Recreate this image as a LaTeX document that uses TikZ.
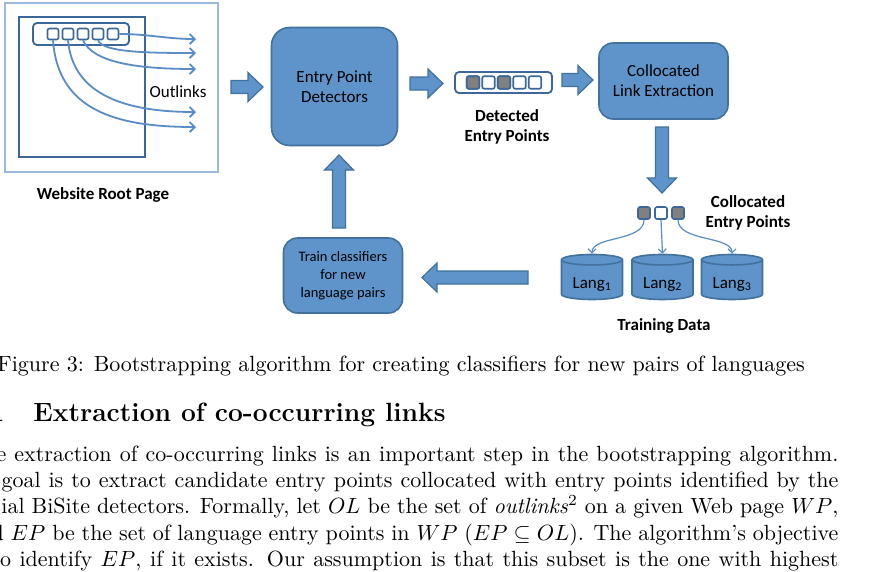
\documentclass[tikz,border=0pt]{standalone}
\usepackage{fontspec}
\usetikzlibrary{shapes.geometric,arrows.meta}
\newfontfamily\carlito{Carlito}

\definecolor{boxfill}{HTML}{5E94CA}
\definecolor{boxline}{HTML}{41719C}
\definecolor{linkblue}{HTML}{5A8DC6}
\definecolor{pagedark}{HTML}{3B679A}
\definecolor{pagelight}{HTML}{9BB9DC}
\definecolor{slotgrey}{HTML}{808080}

\tikzset{
    procbox/.style={draw=boxline, fill=boxfill, line width=1.6pt, rounded corners=14pt,
        font=\carlito\fontsize{17}{20}\selectfont, align=center, inner sep=0pt},
    pics/fatarr/.style={code={
        \draw[boxline, fill=boxfill, line width=1.2pt] (0,-6.5) -- ({#1-15},-6.5) -- ({#1-15},-14.5)
            -- (#1,0) -- ({#1-15},14.5) -- ({#1-15},6.5) -- (0,6.5) -- cycle;}},
    slot/.style={draw=pagedark, fill=white, line width=1.6pt, rounded corners=2pt,
        minimum size=11pt, inner sep=0pt},
    slotfull/.style={slot, fill=slotgrey},
    slotbar/.style={draw=pagedark, fill=white, line width=1.8pt, rounded corners=4pt, inner sep=0pt},
    outlink/.style={draw=linkblue, line width=1.8pt, -{Straight Barb[length=5pt,width=10pt]}},
    thinlink/.style={draw=linkblue, line width=1.2pt, -{Straight Barb[length=4pt,width=8pt]}},
    boldtext/.style={font=\carlito\bfseries\fontsize{17}{20}\selectfont, align=center},
    plaintext/.style={font=\carlito\fontsize{17}{20}\selectfont, align=center},
    langdb/.style={cylinder, shape border rotate=90, aspect=0.27, draw=boxline, fill=boxfill,
        line width=1.6pt, minimum width=61pt, minimum height=45pt,
        font=\carlito\fontsize{17}{20}\selectfont, inner sep=0pt},
    bodyline/.style={anchor=base west, inner sep=0pt, scale=2.2, transform shape},
}

\begin{document}
\begin{tikzpicture}[x=1pt, y=-1pt]
    \fill[white] (0,0) rectangle (893,571);
    \useasboundingbox (0,0) rectangle (893,571);
    \clip (0,0) rectangle (893,571);

    % website root page
    \node[draw=pagelight, line width=1.3pt, minimum width=213pt, minimum height=169pt] (page) at (111.5,87.5) {};
    \node[draw=pagedark, line width=2.2pt, minimum width=126pt, minimum height=140pt] (inner) at (82,87) {};
    \node[slotbar, minimum width=96pt, minimum height=22pt] (rootbar) at (81,34) {};
    \foreach \i in {1,...,5}
        \node[slot] (s\i) at ({38+15*\i},34) {};

    \coordinate (o1) at (196,39);
    \coordinate (o2) at (196,53);
    \coordinate (o3) at (196,69);
    \coordinate (o4) at (196,112);
    \coordinate (o5) at (196,127);
    \draw[outlink] (s5.east) .. controls +(30,0) and +(-30,0) .. (o1);
    \draw[outlink] (s4.south) .. controls +(5,12) and +(-50,0) .. (o2);
    \draw[outlink] (s3.south) .. controls +(10,22) and +(-60,0) .. (o3);
    \draw[outlink] (s2.south) .. controls +(5,55) and +(-70,0) .. (o4);
    \draw[outlink] (s1.south) .. controls +(5,70) and +(-80,0) .. (o5);

    \node[plaintext] (outl) at (178,92) {Outlinks};
    \node[boldtext] (rootlbl) at (103,195) {Website Root Page};

    % processing boxes
    \node[procbox, minimum width=126pt, minimum height=118pt, rounded corners=18pt] (detect) at (334.5,86.5) {Entry Point\\Detectors};
    \node[procbox, minimum width=129pt, minimum height=76pt] (extract) at (663.5,81) {Collocated\\Link Extraction};
    \node[procbox, minimum width=119pt, minimum height=75pt, font=\carlito\fontsize{14.5}{18}\selectfont] (train) at (343,275.5) {Train classifiers\\for new\\language pairs};

    % detected entry points
    \node[slotbar, minimum width=97pt, minimum height=21pt] (detbar) at (503.5,82.5) {};
    \foreach \i in {1,...,5}
        \node[slot, minimum size=12.5pt] (d\i) at ({457.5+15.5*\i},82.5) {};
    \node[slotfull, minimum size=12.5pt] at (d1) {};
    \node[slotfull, minimum size=12.5pt] at (d3) {};
    \node[boldtext] (detlbl) at (507,127) {Detected\\Entry Points};

    % big arrows
    \pic at (231,87) {fatarr=32};
    \pic at (410,83.5) {fatarr=33};
    \pic at (562,80) {fatarr=31};
    \pic[rotate=-90] at (662,127) {fatarr=66};
    \pic[rotate=180] at (528,277.5) {fatarr=106};
    \pic[rotate=90] at (339,228) {fatarr=73};

    % collocated entry points
    \node[slotfull, minimum size=12pt] (c1) at (644,213) {};
    \node[slot, minimum size=12pt] (c2) at (661,213) {};
    \node[slotfull, minimum size=12pt] (c3) at (678,213) {};
    \node[boldtext] (collbl) at (748,213) {Collocated\\Entry Points};

    \node[langdb] (db1) at (592,280) {\smash{\raisebox{-8pt}{Lang\textsubscript{1}}}};
    \node[langdb] (db2) at (662.5,280) {\smash{\raisebox{-8pt}{Lang\textsubscript{2}}}};
    \node[langdb] (db3) at (732,280) {\smash{\raisebox{-8pt}{Lang\textsubscript{3}}}};
    \draw[thinlink] (c1.south) .. controls +(0,22) and +(0,-18) .. (db1.north);
    \draw[thinlink] (c2.south) -- (db2.north);
    \draw[thinlink] (c3.south) .. controls +(0,22) and +(0,-18) .. (db3.north);
    \node[boldtext] (trainlbl) at (664,326) {Training Data};

    % page text below the figure
    \node[bodyline] (cap) at (-3,371) {\fontsize{10}{12}\selectfont Figure 3: Bootstrapping algorithm for creating classifiers for new pairs of languages};
    \node[bodyline] (sec) at (33,421) {\fontsize{12}{14}\selectfont\bfseries\llap{3.1\hspace{1.1em}}Extraction of co-occurring links};
    \node[bodyline] (p1) at (-32,461) {\hbox to 395.45pt{\fontsize{10}{12}\selectfont The extraction of co-occurring links is an important step in the bootstrapping algorithm.}};
    \node[bodyline] (p2) at (-32,487.4) {\hbox to 395.45pt{\fontsize{10}{12}\selectfont Its goal is to extract candidate entry points collocated with entry points identified by the}};
    \node[bodyline] (p3) at (-32,513.8) {\hbox to 395.45pt{\fontsize{10}{12}\selectfont initial BiSite detectors. Formally, let $OL$ be the set of \emph{outlinks}$^2$ on a given Web page $WP$,}};
    \node[bodyline] (p4) at (-32,540.2) {\hbox to 395.45pt{\fontsize{10}{12}\selectfont and $EP$ be the set of language entry points in $WP$ ($EP \subseteq OL$). The algorithm's objective}};
    \node[bodyline] (p5) at (-32,566.6) {\hbox to 395.45pt{\fontsize{10}{12}\selectfont is to identify $EP$, if it exists. Our assumption is that this subset is the one with highest}};
\end{tikzpicture}
\end{document}
